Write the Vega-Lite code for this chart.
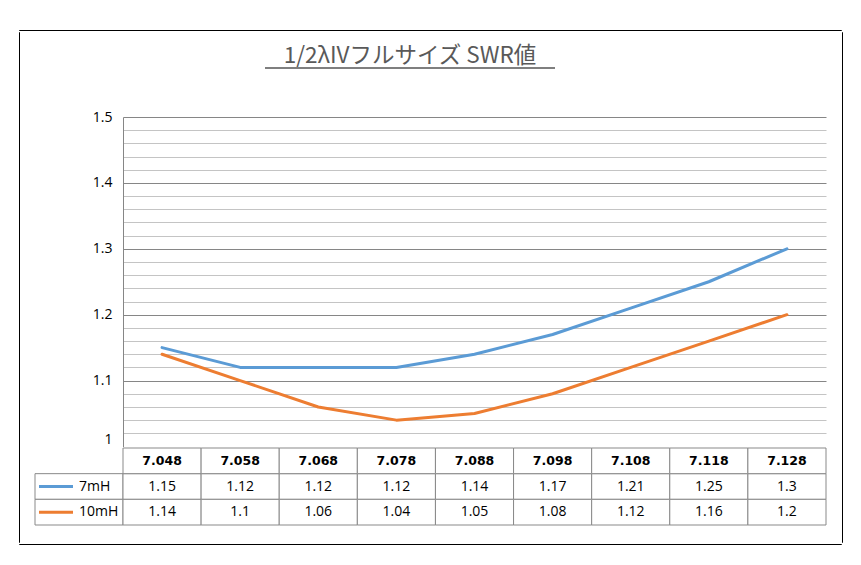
{
  "$schema": "https://vega.github.io/schema/vega-lite/v6.json",
  "padding": {"left": 18, "top": 29, "right": 21, "bottom": 20},
  "background": "white",
  "config": {"view": {"stroke": null}, "font": "Open Sans"},
  "data": {"values": [
    {"freq": "7.048", "series": "7mH", "swr": 1.15},
    {"freq": "7.058", "series": "7mH", "swr": 1.12},
    {"freq": "7.068", "series": "7mH", "swr": 1.12},
    {"freq": "7.078", "series": "7mH", "swr": 1.12},
    {"freq": "7.088", "series": "7mH", "swr": 1.14},
    {"freq": "7.098", "series": "7mH", "swr": 1.17},
    {"freq": "7.108", "series": "7mH", "swr": 1.21},
    {"freq": "7.118", "series": "7mH", "swr": 1.25},
    {"freq": "7.128", "series": "7mH", "swr": 1.3},
    {"freq": "7.048", "series": "10mH", "swr": 1.14},
    {"freq": "7.058", "series": "10mH", "swr": 1.1},
    {"freq": "7.068", "series": "10mH", "swr": 1.06},
    {"freq": "7.078", "series": "10mH", "swr": 1.04},
    {"freq": "7.088", "series": "10mH", "swr": 1.05},
    {"freq": "7.098", "series": "10mH", "swr": 1.08},
    {"freq": "7.108", "series": "10mH", "swr": 1.12},
    {"freq": "7.118", "series": "10mH", "swr": 1.16},
    {"freq": "7.128", "series": "10mH", "swr": 1.2}
  ]},
  "spacing": 0,
  "vconcat": [
    {"width": 822, "height": 0.01, "view": {"stroke": "#000000", "strokeWidth": 1}, "data": {"values": []}, "mark": "text", "encoding": {}},
    {
      "spacing": 13,
      "hconcat": [
        {"width": 0.01, "height": 510, "view": {"stroke": "#000000", "strokeWidth": 1}, "data": {"values": []}, "mark": "text", "encoding": {}},
        {
          "spacing": 0,
          "vconcat": [
            {
              "spacing": 0,
              "bounds": "flush",
              "hconcat": [
                {"width": 230, "height": 78, "data": {"values": []}, "mark": "text", "encoding": {}},
                {
                  "width": 290, "height": 36,
                  "data": {"values": [{"title": "1/2λIVフルサイズ SWR値"}]},
                  "layer": [
                    {"mark": {"type": "text", "font": "Noto Sans CJK JP", "fontSize": 22.5, "color": "#595959", "baseline": "middle", "dy": 6},
                     "encoding": {"text": {"field": "title", "type": "nominal"}}},
                    {"mark": {"type": "rule", "color": "#000000", "strokeWidth": 1.2},
                     "encoding": {"y": {"value": "height"}}}
                  ]
                },
                {"width": 273, "height": 1, "data": {"values": []}, "mark": "text", "encoding": {}}
              ]
            },
            {
              "spacing": 0,
              "bounds": "flush",
              "hconcat": [
                {"width": 88, "height": 329.5, "data": {"values": []}, "mark": "text", "encoding": {}},
                {
                  "width": 703, "height": 329.5,
                  "mark": {"type": "line", "strokeWidth": 3, "strokeJoin": "round", "strokeCap": "round"},
                  "encoding": {
                    "x": {"field": "freq", "type": "nominal", "sort": null, "scale": {"type": "point", "padding": 0.5}, "axis": null},
                    "y": {
                      "field": "swr", "type": "quantitative",
                      "scale": {"domain": [1, 1.5], "nice": false, "zero": false},
                      "axis": {
                        "title": null,
                        "values": [1, 1.02, 1.04, 1.06, 1.08, 1.1, 1.12, 1.14, 1.16, 1.18, 1.2, 1.22, 1.24, 1.26, 1.28, 1.3, 1.32, 1.34, 1.36, 1.38, 1.4, 1.42, 1.44, 1.46, 1.48, 1.5],
                        "format": "~g",
                        "labelExpr": "abs(datum.value*10 - round(datum.value*10)) < 0.001 ? datum.label : ''",
                        "labelFontSize": {"condition": {"test": "abs(datum.value*10 - round(datum.value*10)) < 0.001", "value": 14}, "value": 0},
                        "labelBaseline": {"condition": {"test": "datum.value < 1.001", "value": "bottom"}, "value": "middle"},
                        "labelOverlap": false,
                        "labelColor": "#000000",
                        "labelPadding": 11,
                        "ticks": false,
                        "domain": true,
                        "domainColor": "#868686",
                        "grid": true,
                        "gridWidth": 1,
                        "gridOpacity": {"condition": {"test": "datum.value < 1.001", "value": 0}, "value": 1},
                        "gridColor": {"condition": {"test": "abs(datum.value*10 - round(datum.value*10)) < 0.001", "value": "#868686"}, "value": "#c4c4c4"}
                      }
                    },
                    "color": {"field": "series", "type": "nominal", "scale": {"domain": ["7mH", "10mH"], "range": ["#5B9BD5", "#ED7D31"]}, "legend": null}
                  }
                }
              ]
            },
            {
              "spacing": 0,
              "bounds": "flush",
              "hconcat": [
                {
                  "width": 88, "height": 77,
                  "transform": [{"filter": "datum.freq == '7.048'"}],
                  "layer": [
                    {"mark": {"type": "rect", "fill": "white", "stroke": "#898989", "strokeWidth": 1},
                     "encoding": {"y": {"field": "series", "type": "nominal", "scale": {"domain": ["header", "7mH", "10mH"], "paddingInner": 0, "paddingOuter": 0}, "axis": null}}},
                    {"mark": {"type": "point", "shape": "M -4 0 L -0.6 0", "size": 400, "filled": false, "strokeWidth": 3, "opacity": 1},
                     "encoding": {
                       "y": {"field": "series", "type": "nominal", "axis": null},
                       "color": {"field": "series", "type": "nominal", "scale": {"domain": ["7mH", "10mH"], "range": ["#5B9BD5", "#ED7D31"]}, "legend": null}
                     }},
                    {"mark": {"type": "text", "align": "left", "fontSize": 14, "color": "#000000"},
                     "encoding": {
                       "y": {"field": "series", "type": "nominal", "axis": null},
                       "text": {"field": "series", "type": "nominal"}
                     }}
                  ]
                },
                {
                  "width": 703, "height": 77,
                  "encoding": {
                    "x": {"field": "freq", "type": "nominal", "sort": null, "scale": {"paddingInner": 0, "paddingOuter": 0}, "axis": null}
                  },
                  "layer": [
                    {"mark": {"type": "rect", "fill": "white", "stroke": "#898989", "strokeWidth": 1},
                     "encoding": {"y": {"field": "series", "type": "nominal", "scale": {"domain": ["header", "7mH", "10mH"], "paddingInner": 0, "paddingOuter": 0}, "axis": null}}},
                    {"transform": [{"filter": "datum.series == '7mH'"}],
                     "mark": {"type": "rect", "fill": "white", "stroke": "#898989", "strokeWidth": 1},
                     "encoding": {"y": {"datum": "header", "type": "nominal"}}},
                    {"mark": {"type": "text", "fontSize": 14, "color": "#000000"},
                     "encoding": {
                       "y": {"field": "series", "type": "nominal"},
                       "text": {"field": "swr", "type": "quantitative", "format": "~g"}
                     }},
                    {"transform": [{"filter": "datum.series == '7mH'"}],
                     "mark": {"type": "text", "font": "DejaVu Sans", "fontWeight": "bold", "fontSize": 12.5, "color": "#000000"},
                     "encoding": {
                       "y": {"datum": "header", "type": "nominal"},
                       "text": {"field": "freq", "type": "nominal"}
                     }}
                  ]
                }
              ]
            }
          ]
        },
        {"width": 0.01, "height": 510, "view": {"stroke": "#000000", "strokeWidth": 1}, "data": {"values": []}, "mark": "text", "encoding": {}}
      ]
    },
    {"width": 822, "height": 0.01, "view": {"stroke": "#000000", "strokeWidth": 1}, "data": {"values": []}, "mark": "text", "encoding": {}}
  ]
}
